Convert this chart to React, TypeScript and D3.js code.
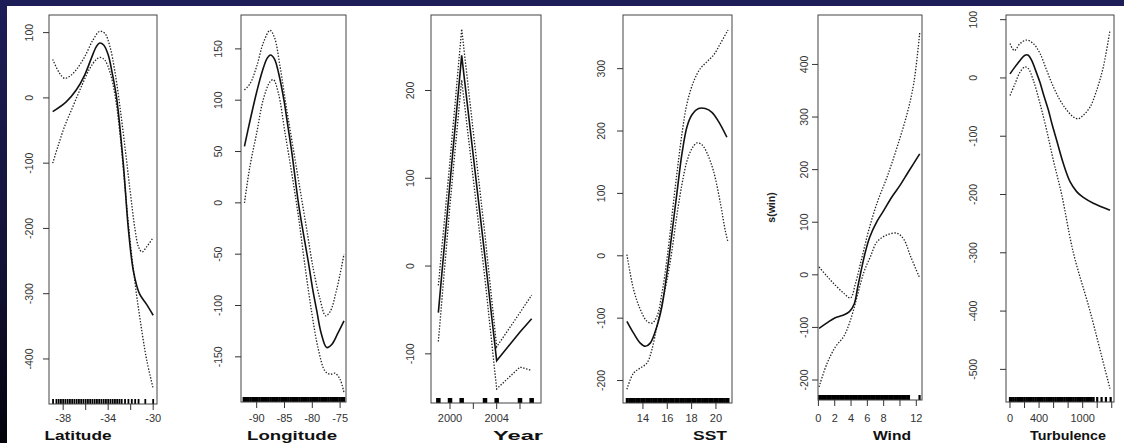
import React from 'react';
import * as d3 from 'd3';

type P = [number, number];

// ---------- Latitude ----------
const latitudeFit: P[] = [[-38.93,-21],[-37.73,-6],[-36.84,12],[-36.09,35],[-35.49,61],[-35.04,79],[-34.75,84],[-34.4,81],[-34.0,66],[-33.64,38],[-33.25,0],[-32.66,-100],[-32.21,-200],[-31.76,-265],[-31.22,-300],[-30.6,-316],[-30.0,-333]];
const latitudeUpper: P[] = [[-38.93,59],[-38.33,38],[-37.88,30],[-37.43,33],[-36.84,43],[-36.09,63],[-35.34,89],[-34.75,102],[-34.3,99],[-33.85,79],[-33.4,40],[-32.96,-13],[-32.51,-75],[-32.06,-141],[-31.61,-202],[-31.31,-228],[-31.0,-236],[-30.57,-228],[-30.0,-214]];
const latitudeLower: P[] = [[-38.93,-100],[-38.48,-75],[-37.88,-44],[-37.13,-13],[-36.39,17],[-35.64,45],[-35.04,59],[-34.69,62],[-34.3,58],[-33.85,40],[-33.4,5],[-32.96,-54],[-32.51,-136],[-32.06,-218],[-31.61,-284],[-31.16,-340],[-30.57,-402],[-30.0,-445]];
const latitudeRug = [-38.9,-38.6,-38.4,-38.2,-38.0,-37.8,-37.6,-37.4,-37.2,-37.0,-36.8,-36.6,-36.4,-36.2,-36.0,-35.8,-35.6,-35.4,-35.2,-35.0,-34.8,-34.6,-34.4,-34.2,-34.0,-33.8,-33.6,-33.4,-33.2,-33.0,-32.8,-32.5,-32.2,-31.9,-31.6,-31.3,-30.7,-30.0];
const latitudeXTicks = [-38,-36,-34,-32,-30];
const latitudeXLabels = [-38,-34,-30];
const latitudeYTicks = [100,0,-100,-200,-300,-400];

// ---------- Longitude ----------
const longitudeFit: P[] = [[-92.2,55],[-91.2,80],[-90,108],[-89,128],[-88.1,141],[-87.5,144],[-86.8,140],[-86,125],[-85.1,100],[-84.4,75],[-83.7,50],[-82.5,0],[-81.6,-30],[-80.7,-58],[-79.9,-85],[-79.2,-105],[-78.4,-127],[-77.4,-141],[-76.5,-138],[-75.4,-127],[-74.3,-115]];
const longitudeUpper: P[] = [[-92.2,110],[-91.2,116],[-90,133],[-88.8,156],[-87.6,168],[-86.8,161],[-85.8,133],[-84.6,91],[-83.4,52],[-82.2,13],[-81.0,-26],[-79.8,-65],[-78.6,-94],[-77.6,-110],[-76.8,-106],[-75.6,-84],[-74.3,-50]];
const longitudeLower: P[] = [[-92.2,0],[-91.2,36],[-90,68],[-88.8,101],[-87.6,118],[-87.0,120],[-86.1,107],[-84.9,68],[-83.7,29],[-82.5,-13],[-81.3,-62],[-80.1,-107],[-78.9,-143],[-77.7,-164],[-76.8,-167],[-75.9,-166],[-75.0,-172],[-74.3,-185]];
const longitudeRug = [-92.3,-91.9,-91.5,-91.1,-90.7,-90.3,-89.9,-89.5,-89.1,-88.7,-88.3,-87.9,-87.5,-87.1,-86.7,-86.3,-85.9,-85.5,-85.1,-84.7,-84.3,-83.9,-83.5,-83.1,-82.7,-82.3,-81.9,-81.5,-81.1,-80.7,-80.3,-79.9,-79.5,-79.1,-78.7,-78.3,-77.9,-77.5,-77.1,-76.7,-76.3,-75.9,-75.5,-75.1,-74.7,-74.3];
const longitudeXTicks = [-90,-85,-80,-75];
const longitudeXLabels = [-90,-85,-80,-75];
const longitudeYTicks = [150,100,50,0,-50,-100,-150];

// ---------- Year ----------
const yearFit: P[] = [[1999,-53],[2000,95],[2001,240],[2003,10],[2004,-108],[2006,-75],[2007,-60]];
const yearUpper: P[] = [[1999,-22],[2000,120],[2001,270],[2003,35],[2004,-92],[2006,-53],[2007,-33]];
const yearLower: P[] = [[1999,-86],[2000,70],[2001,212],[2003,-15],[2004,-140],[2006,-115],[2007,-119]];
const yearRug = [1999,2000,2001,2003,2004,2006,2007];
const yearXTicks = [2000,2002,2004,2006];
const yearXLabels = [2000,2004];
const yearYTicks = [200,100,0,-100];

// ---------- SST ----------
const sstFit: P[] = [[12.68,-105],[13.23,-124],[13.78,-140],[14.19,-145],[14.6,-140],[15.15,-113],[15.56,-81],[15.97,-28],[16.38,36],[16.79,100],[17.21,164],[17.62,207],[18.03,226],[18.58,236],[19.12,236],[19.67,230],[20.22,215],[20.9,190]];
const sstUpper: P[] = [[12.68,2],[13.23,-54],[13.78,-86],[14.33,-105],[14.74,-108],[15.15,-97],[15.56,-60],[15.97,-6],[16.38,63],[16.79,132],[17.21,196],[17.62,244],[18.16,279],[18.71,300],[19.26,311],[19.81,322],[20.36,340],[20.99,362]];
const sstLower: P[] = [[12.68,-214],[13.23,-188],[13.78,-180],[14.33,-172],[14.74,-150],[15.15,-113],[15.56,-76],[15.97,-40],[16.38,8],[16.79,65],[17.21,115],[17.62,152],[18.03,172],[18.44,181],[18.85,178],[19.26,165],[19.81,135],[20.36,85],[20.77,40],[20.99,22]];
const sstRug = [12.7,12.9,13.1,13.3,13.5,13.7,13.9,14.1,14.3,14.5,14.7,14.9,15.1,15.3,15.5,15.7,15.9,16.1,16.3,16.5,16.7,16.9,17.1,17.3,17.5,17.7,17.9,18.1,18.3,18.5,18.7,18.9,19.1,19.3,19.5,19.7,19.9,20.1,20.3,20.5,20.7,20.9,21.0];
const sstXTicks = [14,16,18,20];
const sstXLabels = [14,16,18,20];
const sstYTicks = [300,200,100,0,-100,-200];

// ---------- Wind ----------
const windFit: P[] = [[0.08,-102],[1.0,-92],[2.0,-82],[3.0,-77],[3.8,-70],[4.4,-55],[4.8,-25],[5.2,5],[5.7,40],[6.3,72],[7.2,102],[8.0,122],[9.0,148],[10.0,170],[11.0,195],[12.42,230]];
const windUpper: P[] = [[0.08,15],[1.07,-3],[2.09,-20],[3.11,-35],[3.93,-44],[4.55,-16],[5.37,35],[6.19,86],[7.2,137],[8.44,187],[9.67,244],[10.9,308],[11.7,365],[12.42,460]];
const windLower: P[] = [[0.08,-213],[1.07,-168],[2.09,-137],[3.11,-117],[3.93,-86],[4.75,-41],[5.57,5],[6.39,35],[7.2,63],[8.44,76],[9.67,79],[10.49,67],[11.3,35],[12.42,-6]];
const windRug = [0.1,0.3,0.5,0.7,0.9,1.1,1.3,1.5,1.7,1.9,2.1,2.3,2.5,2.7,2.9,3.1,3.3,3.5,3.7,3.9,4.1,4.3,4.5,4.7,4.9,5.1,5.3,5.5,5.7,5.9,6.1,6.3,6.5,6.7,6.9,7.1,7.3,7.5,7.7,7.9,8.1,8.3,8.5,8.7,8.9,9.1,9.3,9.5,9.7,9.9,10.1,10.3,10.5,10.7,10.9,11.1,12.4];
const windXTicks = [0,2,4,6,8,10,12];
const windXLabels = [0,2,4,6,8,12];
const windYTicks = [400,300,200,100,0,-100,-200];

// ---------- Turbulence ----------
const turbFit: P[] = [[0,7],[69,19],[138,30],[206,39],[252,39],[298,30],[367,8],[413,-8],[460,-28],[528,-55],[580,-80],[642,-107],[734,-147],[826,-178],[917,-195],[1009,-205],[1147,-215],[1376,-227]];
const turbUpper: P[] = [[0,59],[60,47],[138,59],[229,65],[321,59],[413,42],[505,13],[596,-15],[688,-38],[780,-55],[872,-67],[940,-70],[1009,-64],[1101,-50],[1193,-21],[1284,19],[1376,82]];
const turbLower: P[] = [[0,-30],[69,-10],[138,10],[206,19],[252,16],[321,-4],[413,-44],[505,-90],[596,-141],[711,-200],[872,-300],[1101,-400],[1307,-500],[1376,-533]];
const turbRug = [0,25,50,75,100,125,150,175,200,225,250,275,300,325,350,375,400,425,450,475,500,525,550,575,600,625,650,675,700,725,750,775,800,825,850,875,900,925,950,975,1000,1025,1050,1075,1100,1125,1150,1200,1260,1320,1385];
const turbXTicks = [0,200,400,600,800,1000,1200,1400];
const turbXLabels = [0,400,1000];
const turbYTicks = [100,0,-100,-200,-300,-400,-500];

interface Panel {
  title: string; fit: P[]; upper: P[]; lower: P[]; rug: number[];
  xTicks: number[]; xLabels: number[]; yTicks: number[];
  left: number; right: number; top: number; bottom: number;
  xDomain: [number, number]; yDomain: [number, number];
  yLabelOff: number; titleX: number; titleW: number; rugW: number;
  linear?: boolean; yTitle?: string; yTitleX?: number;
}

const panels: Panel[] = [
  { title: 'Latitude', fit: latitudeFit, upper: latitudeUpper, lower: latitudeLower, rug: latitudeRug,
    xTicks: latitudeXTicks, xLabels: latitudeXLabels, yTicks: latitudeYTicks,
    left: 49, right: 157, top: 15, bottom: 404, xDomain: [-39.26, -29.66], yDomain: [-469, 127],
    yLabelOff: 20, titleX: 78, titleW: 67, rugW: 1.8 },
  { title: 'Longitude', fit: longitudeFit, upper: longitudeUpper, lower: longitudeLower, rug: longitudeRug,
    xTicks: longitudeXTicks, xLabels: longitudeXLabels, yTicks: longitudeYTicks,
    left: 241, right: 346, top: 15, bottom: 402, xDomain: [-92.82, -73.94], yDomain: [-194, 183],
    yLabelOff: 23, titleX: 292, titleW: 90, rugW: 2.6 },
  { title: 'Year', fit: yearFit, upper: yearUpper, lower: yearLower, rug: yearRug,
    xTicks: yearXTicks, xLabels: yearXLabels, yTicks: yearYTicks,
    left: 431, right: 541, top: 15, bottom: 403, xDomain: [1998.37, 2007.8], yDomain: [-156, 286],
    yLabelOff: 21, titleX: 518, titleW: 50, rugW: 4.5, linear: true },
  { title: 'SST', fit: sstFit, upper: sstUpper, lower: sstLower, rug: sstRug,
    xTicks: sstXTicks, xLabels: sstXLabels, yTicks: sstYTicks,
    left: 623, right: 732, top: 15, bottom: 403, xDomain: [12.36, 21.32], yDomain: [-236, 386],
    yLabelOff: 22, titleX: 710, titleW: 34, rugW: 2.8 },
  { title: 'Wind', fit: windFit, upper: windUpper, lower: windLower, rug: windRug,
    xTicks: windXTicks, xLabels: windXLabels, yTicks: windYTicks,
    left: 818, right: 922, top: 15, bottom: 400, xDomain: [-0.05, 12.7], yDomain: [-238, 494],
    yLabelOff: 14, titleX: 892, titleW: 38, rugW: 2.2, yTitle: 's(win)', yTitleX: 771 },
  { title: 'Turbulence', fit: turbFit, upper: turbUpper, lower: turbLower, rug: turbRug,
    xTicks: turbXTicks, xLabels: turbXLabels, yTicks: turbYTicks,
    left: 1006, right: 1114, top: 15, bottom: 402, xDomain: [-55, 1431], yDomain: [-556, 108],
    yLabelOff: 33, titleX: 1068, titleW: 76, rugW: 2.2 },
];

const FONT = 'Liberation Sans, Arial, Helvetica, sans-serif';

function PanelView({ p }: { p: Panel }) {
  const x = d3.scaleLinear().domain(p.xDomain).range([p.left, p.right]);
  const y = d3.scaleLinear().domain(p.yDomain).range([p.bottom, p.top]);
  const line = d3.line<P>().x(d => x(d[0])).y(d => y(d[1]))
    .curve(p.linear ? d3.curveLinear : d3.curveCatmullRom.alpha(0.5));
  const tickLen = 6;
  return (
    <g>
      <defs>
        <clipPath id={`clip-${p.title}`}>
          <rect x={p.left} y={p.top} width={p.right - p.left} height={p.bottom - p.top} />
        </clipPath>
      </defs>
      <g clipPath={`url(#clip-${p.title})`}>
        <path d={line(p.upper) || ''} fill="none" stroke="#222" strokeWidth={1.3} strokeDasharray="1.4,1.6" />
        <path d={line(p.lower) || ''} fill="none" stroke="#222" strokeWidth={1.3} strokeDasharray="1.4,1.6" />
        <path d={line(p.fit) || ''} fill="none" stroke="#111" strokeWidth={1.6} />
        {p.rug.map((r, i) => (
          <line key={i} x1={x(r)} x2={x(r)} y1={p.bottom} y2={p.bottom - 5} stroke="#000" strokeWidth={p.rugW} />
        ))}
      </g>
      <rect x={p.left} y={p.top} width={p.right - p.left} height={p.bottom - p.top} fill="none" stroke="#444" strokeWidth={1} />
      {p.xTicks.map((t, i) => (
        <line key={i} x1={x(t)} x2={x(t)} y1={p.bottom} y2={p.bottom + tickLen} stroke="#333" strokeWidth={1} />
      ))}
      {p.xLabels.map((t, i) => (
        <text key={i} x={x(t)} y={422} textAnchor="middle" fontFamily={FONT} fontSize={11} fill="#333">{String(t)}</text>
      ))}
      {p.yTicks.map((t, i) => (
        <g key={i}>
          <line x1={p.left - tickLen} x2={p.left} y1={y(t)} y2={y(t)} stroke="#333" strokeWidth={1} />
          <text transform={`translate(${p.left - p.yLabelOff + 4},${y(t)}) rotate(-90)`} textAnchor="middle"
            fontFamily={FONT} fontSize={10.5} fill="#333">{String(t)}</text>
        </g>
      ))}
      {p.yTitle && (
        <text transform={`translate(${(p.yTitleX || 0) + 4},${(p.top + p.bottom) / 2}) rotate(-90)`} textAnchor="middle"
          fontFamily={FONT} fontSize={10.5} fontWeight="bold" fill="#222">{p.yTitle}</text>
      )}
      <text x={p.titleX} y={440} textAnchor="middle" fontFamily={FONT} fontSize={13.5} fontWeight="bold" fill="#111"
        textLength={p.titleW} lengthAdjust="spacingAndGlyphs">{p.title}</text>
    </g>
  );
}

export default function App() {
  return (
    <div style={{ position: 'absolute', left: 0, top: 0 }}>
      <svg width={1124} height={443} style={{ display: 'block' }}>
        <defs>
          <linearGradient id="leftbar" x1="0" y1="0" x2="0" y2="1">
            <stop offset="0" stopColor="#1d1d58" />
            <stop offset="0.6" stopColor="#121236" />
            <stop offset="1" stopColor="#03030c" />
          </linearGradient>
        </defs>
        <rect x={0} y={0} width={1124} height={443} fill="#ffffff" />
        <rect x={0} y={0} width={1124} height={6} fill="#1d1d58" />
        <rect x={0} y={0} width={7} height={443} fill="url(#leftbar)" />
        {panels.map(p => <PanelView key={p.title} p={p} />)}
      </svg>
    </div>
  );
}
